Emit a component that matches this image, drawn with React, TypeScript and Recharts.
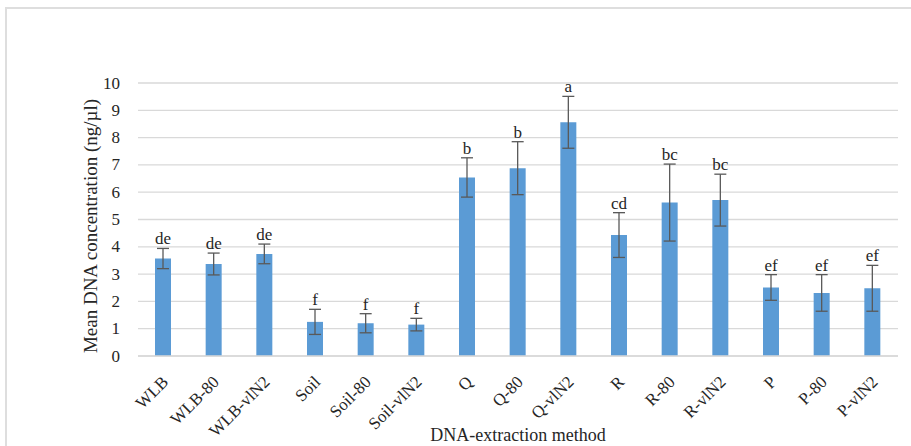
import React from 'react';
import { BarChart, Bar, XAxis, YAxis, CartesianGrid, ErrorBar, LabelList, Label } from 'recharts';

const categories = ['WLB', 'WLB-80', 'WLB-vlN2', 'Soil', 'Soil-80', 'Soil-vlN2', 'Q', 'Q-80', 'Q-vlN2', 'R', 'R-80', 'R-vlN2', 'P', 'P-80', 'P-vlN2'];
const means = [3.57, 3.37, 3.74, 1.25, 1.2, 1.15, 6.54, 6.88, 8.56, 4.43, 5.62, 5.71, 2.51, 2.31, 2.48];
const errors = [0.37, 0.4, 0.36, 0.46, 0.35, 0.23, 0.72, 0.97, 0.95, 0.82, 1.41, 0.95, 0.47, 0.67, 0.84];
const letters = ['de', 'de', 'de', 'f', 'f', 'f', 'b', 'b', 'a', 'cd', 'bc', 'bc', 'ef', 'ef', 'ef'];
const yTicks = [0, 1, 2, 3, 4, 5, 6, 7, 8, 9, 10];

const data = categories.map((c, i) => ({ name: c, mean: means[i], err: errors[i], letter: letters[i] }));

const FONT = '"Liberation Serif", "Times New Roman", serif';
const TEXT = '#262626';

const XTick = (props: any) => {
  const { x, y, payload } = props;
  return (
    <g transform={`translate(${x + 6},${y + 19})`}>
      <text transform="rotate(-45)" textAnchor="end" fontFamily={FONT} fontSize={17} fill={TEXT}>
        {payload.value}
      </text>
    </g>
  );
};

const YTick = (props: any) => {
  const { x, y, payload } = props;
  return (
    <text x={x} y={y} textAnchor="end" dominantBaseline="central" fontFamily={FONT} fontSize={17} fill={TEXT}>
      {payload.value}
    </text>
  );
};

const LetterLabel = (props: any) => {
  const { x, y, width, height, value, index } = props;
  const scale = height / means[index];
  const top = y - errors[index] * scale;
  return (
    <text x={x + width / 2} y={top - 4} textAnchor="middle" fontFamily={FONT} fontSize={17} fill={TEXT}>
      {value}
    </text>
  );
};

export default function App() {
  return (
    <div style={{ position: 'absolute', left: 0, top: 0, width: 911, height: 446, overflow: 'hidden', background: '#fff' }}>
      <div style={{ position: 'absolute', left: 5, top: 7, width: 1000, height: 1000, border: '2px solid #dedede' }} />
      <div style={{ position: 'absolute', left: 0, top: 0 }}>
        <BarChart width={911} height={446} data={data} margin={{ top: 83, right: 13, bottom: 0, left: 0 }}>
          <CartesianGrid vertical={false} stroke="#d9d9d9" strokeWidth={1.3} />
          <XAxis
            dataKey="name"
            height={90}
            interval={0}
            tickLine={false}
            axisLine={{ stroke: '#d9d9d9', strokeWidth: 1.3 }}
            tick={<XTick />}
          >
            <Label
              content={() => (
                <text x={518} y={441} textAnchor="middle" fontFamily={FONT} fontSize={18} fill={TEXT}>
                  DNA-extraction method
                </text>
              )}
            />
          </XAxis>
          <YAxis
            width={138}
            domain={[0, 10]}
            ticks={yTicks}
            interval={0}
            tickLine={false}
            axisLine={false}
            tickMargin={12}
            tick={<YTick />}
          >
            <Label
              content={() => (
                <text
                  x={90}
                  y={226}
                  transform="rotate(-90, 90, 226)"
                  textAnchor="middle"
                  dominantBaseline="central"
                  fontFamily={FONT}
                  fontSize={19}
                  fill={TEXT}
                >
                  Mean DNA concentration (ng/µl)
                </text>
              )}
            />
          </YAxis>
          <Bar dataKey="mean" fill="#5b9bd5" barSize={16} isAnimationActive={false}>
            <ErrorBar dataKey="err" width={6} stroke="#595959" strokeWidth={1.3} direction="y" />
            <LabelList dataKey="letter" content={<LetterLabel />} />
          </Bar>
        </BarChart>
      </div>
    </div>
  );
}
